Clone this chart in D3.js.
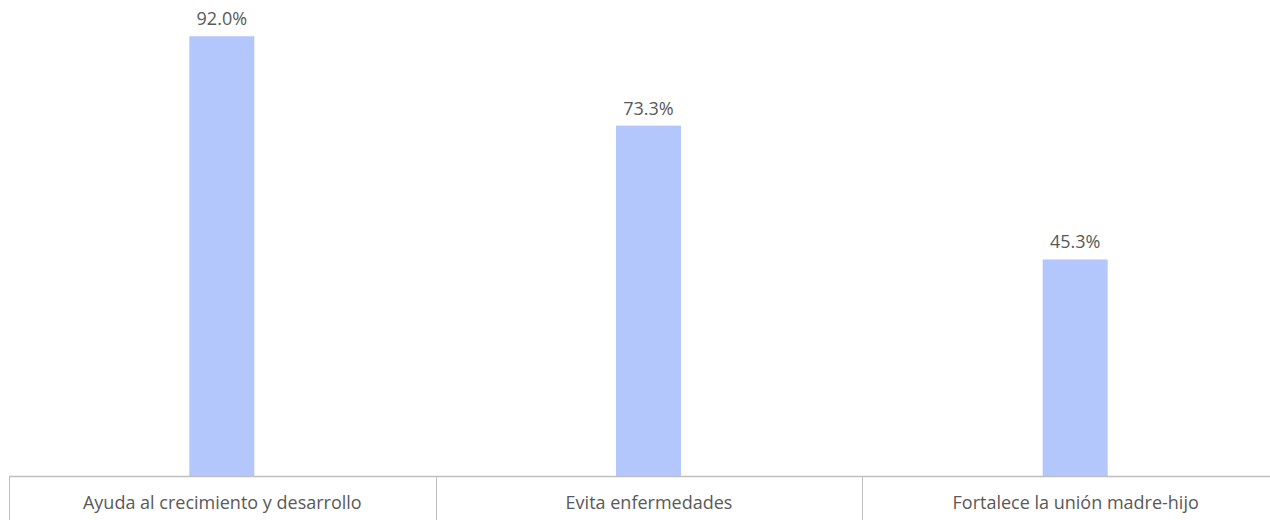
<!DOCTYPE html>
<html>
<head>
<meta charset="utf-8">
<script src="https://cdn.jsdelivr.net/npm/d3@7.9.0/dist/d3.min.js"></script>
<style>
  body { margin: 0; background: #fff; }
  svg text { font-family: "Open Sans", Lato, sans-serif; fill: #595959; }
</style>
</head>
<body>
<svg id="chart" width="1270" height="520"></svg>
<script>
const categories = ['Ayuda al crecimiento y desarrollo', 'Evita enfermedades', 'Fortalece la unión madre-hijo'];
const values = [92.0, 73.3, 45.3];

const svg = d3.select('#chart');
const baseY = 476;

let x = d3.scaleBand().domain(categories).range([9, 1289]);
let y = d3.scaleLinear().domain([0, 100]).range([baseY, baseY - 478]);
const barW = 65;
const mid = (d) => x(d) + x.bandwidth() / 2 - 0.5;

svg.selectAll('rect.bar')
  .data(categories)
  .join('rect')
  .attr('class', 'bar')
  .attr('x', (d) => mid(d) - barW / 2)
  .attr('y', (d, i) => y(values[i]))
  .attr('width', barW)
  .attr('height', (d, i) => baseY - y(values[i]))
  .attr('fill', '#b4c7fd');

svg.selectAll('text.val')
  .data(categories)
  .join('text')
  .attr('class', 'val')
  .attr('x', mid)
  .attr('y', (d, i) => y(values[i]) - 11)
  .attr('text-anchor', 'middle')
  .attr('font-size', 18)
  .text((d, i) => values[i].toFixed(1) + '%');

// category axis: baseline plus divider ticks
svg.append('line')
  .attr('x1', 9).attr('x2', 1270)
  .attr('y1', baseY + 0.5).attr('y2', baseY + 0.5)
  .attr('stroke', '#bfbfbf').attr('stroke-width', 1.5);

svg.selectAll('line.div')
  .data(categories)
  .join('line')
  .attr('class', 'div')
  .attr('x1', (d) => Math.round(x(d)) + 0.5)
  .attr('x2', (d) => Math.round(x(d)) + 0.5)
  .attr('y1', baseY).attr('y2', 520)
  .attr('stroke', '#bfbfbf').attr('stroke-width', 1);

svg.selectAll('text.cat')
  .data(categories)
  .join('text')
  .attr('class', 'cat')
  .attr('x', (d) => x(d) + x.bandwidth() / 2)
  .attr('y', 509)
  .attr('text-anchor', 'middle')
  .attr('font-size', 18)
  .text((d) => d);
</script>
</body>
</html>
